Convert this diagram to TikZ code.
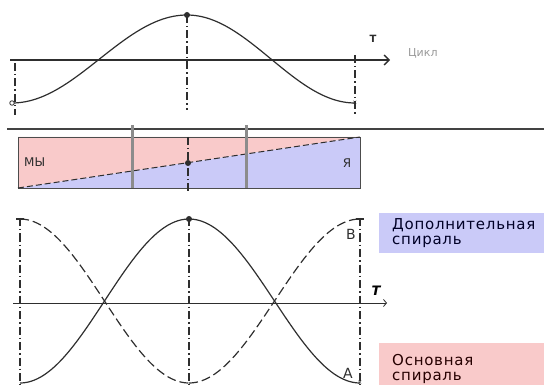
\documentclass[tikz,border=0pt]{standalone}
\usepackage{fontspec}
\setmainfont{DejaVu Sans}
\usetikzlibrary{arrows.meta}
\definecolor{lav}{HTML}{CACAF8}
\definecolor{pnk}{HTML}{F9CACA}
\definecolor{ink}{HTML}{2E2E2E}
\definecolor{barg}{HTML}{8C8C8C}
\begin{document}
\begin{tikzpicture}[x=1pt,y=-1pt,
  curve/.style={line width=1.2pt, draw=ink},
  dcurve/.style={line width=1.2pt, draw=ink, dash pattern=on 9pt off 4pt},
  dashdot/.style={line width=1.1pt, draw=ink, dash pattern=on 8pt off 3pt on 1.5pt off 3pt},
  lbl/.style={inner sep=0pt, text=ink},
  legtext/.style={inner sep=0pt, anchor=north west, align=left, font=\fontsize{15}{15}\selectfont\addfontfeatures{LetterSpace=5}}
]
\useasboundingbox (0,0) rectangle (544,385);

% ---------- top panel ----------
\coordinate (ta0) at (10,60);
\coordinate (ta1) at (390,60);
\draw[line width=1.2pt, draw=ink, -{Straight Barb[length=5pt,width=10pt,line width=1.3pt]}] (ta0) -- (ta1);
\draw[dashdot] (15,63) -- (15,115);
\draw[dashdot] (187,15) -- (187,110);
\draw[dashdot] (355,55) -- (355,115);
\draw[curve] plot[domain=0:180, samples=60] ({12+\x/180*175},{59+44*cos(\x)});
\draw[curve] plot[domain=180:360, samples=60] ({187+(\x-180)/180*168},{59+44*cos(\x)});
\node[circle, fill=ink, inner sep=0pt, minimum size=6pt] (pk1) at (187,15) {};
\node[circle, draw=ink, fill=white, line width=0.8pt, inner sep=0pt, minimum size=4.5pt] (st1) at (12,103) {};
\node[lbl, font=\fontsize{6}{6}\selectfont] (en1) at (355,103) {×};
\node[lbl, font=\bfseries\fontsize{10}{10}\selectfont] (T1) at (373,39) {T};
\node[inner sep=0pt, text=black!40, font=\fontsize{11}{11}\selectfont, anchor=west] (cyc) at (408,53) {Цикл};

% ---------- separator ----------
\draw[line width=1.2pt, draw=ink!90] (7,129) -- (544,129);

% ---------- middle panel ----------
\fill[pnk] (18,137) -- (360,137) -- (18,188) -- cycle;
\fill[lav] (18,188) -- (360,137) -- (360,188) -- cycle;
\draw[line width=0.8pt, draw=black!70] (18,137) rectangle (360,188);
\draw[line width=1pt, draw=ink, dash pattern=on 6pt off 3pt] (18,188) -- (360,137);
\draw[line width=3pt, draw=barg] (132,125) -- (132,188);
\draw[line width=3pt, draw=barg] (246,125) -- (246,188);
\draw[dashdot] (188,137) -- (188,193);
\node[circle, fill=ink, inner sep=0pt, minimum size=6pt] (mid) at (188,163) {};
\node[lbl, font=\fontsize{12}{12}\selectfont, anchor=west] (my) at (24,162) {МЫ};
\node[lbl, font=\fontsize{12}{12}\selectfont] (ya) at (347,163) {Я};

% ---------- bottom panel ----------
\draw[line width=0.8pt, draw=ink, -{Straight Barb[length=3pt,width=7pt,line width=0.8pt]}] (13,303) -- (387,303);
\draw[dashdot] (20,218) -- (20,385);
\draw[dashdot] (189,218) -- (189,385);
\draw[dashdot] (360,218) -- (360,385);
\draw[curve] plot[domain=0:180, samples=60] ({20+\x/180*169},{301+82*cos(\x)});
\draw[curve] plot[domain=180:360, samples=60] ({189+(\x-180)/180*171},{301+82*cos(\x)});
\draw[dcurve] plot[domain=0:180, samples=60] ({20+\x/180*169},{301-82*cos(\x)});
\draw[dcurve] plot[domain=180:360, samples=60] ({189+(\x-180)/180*171},{301-82*cos(\x)});
\node[circle, fill=ink, inner sep=0pt, minimum size=6pt] (pk2) at (189,219) {};
\draw[line width=1.4pt, draw=ink] (356,219) -- (364,219);
\draw[line width=1.1pt, draw=ink] (16,219) -- (24,219);
\node[lbl, font=\fontsize{6}{6}\selectfont] (en2) at (360,383) {×};
\node[lbl, font=\fontsize{14}{14}\selectfont] (B) at (351,234) {B};
\node[lbl, font=\fontsize{14}{14}\selectfont] (A) at (348,373) {A};
\node[inner sep=0pt, text=black, font=\rmfamily\bfseries\itshape\fontsize{13}{13}\selectfont] (T2) at (376,291) {T};

% ---------- legend ----------
\fill[lav] (379,213) rectangle (544,253);
\fill[pnk] (379,343) rectangle (544,385);
\node[legtext, text=black!75!blue!60!black] (leg1) at (392,218) {Дополнительная\\спираль};
\node[legtext, text=black!70!red!50!black] (leg2) at (392,354) {Основная\\спираль};
\end{tikzpicture}
\end{document}
